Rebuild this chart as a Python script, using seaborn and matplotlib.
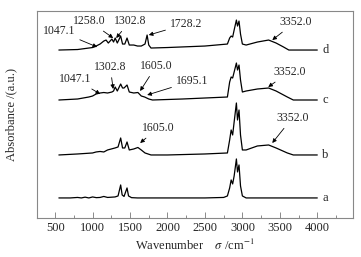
import numpy as np
import pandas as pd
import seaborn as sns
import matplotlib.pyplot as plt
from matplotlib.ticker import FixedLocator

# FTIR spectra: wavenumber (cm-1) and relative absorbance
# (arbitrary units, height above each curve's own baseline)
wn_a = [550, 700, 800, 850, 900, 950, 1000, 1050, 1100, 1150, 1200, 1300, 1340, 1375, 1395,
        1420, 1460, 1480, 1520, 1600, 2500, 2750, 2800, 2830, 2850, 2870, 2890, 2920, 2935,
        2955, 2975, 3000, 3050, 4000]
ab_a = [0, 0, 0.5, 0, 0.8, 0, 1, 0.3, 0.5, 1.5, 0.5, 1, 2, 13, 3,
        1.5, 10, 2, 0.3, 0, 0, 0.5, 2, 10, 18, 14, 22, 39, 26,
        33, 12, 2, 0, 0]

wn_b = [550, 800, 900, 1000, 1047, 1100, 1150, 1200, 1300, 1340, 1375, 1400, 1430, 1460,
        1490, 1550, 1605, 1650, 1700, 1780, 2000, 2500, 2800, 2830, 2850, 2870, 2890, 2920,
        2935, 2955, 2975, 3000, 3050, 3200, 3350, 3450, 3600, 3680, 4000]
ab_b = [0, 1, 1.5, 2, 3, 3.5, 3, 5, 7, 8, 17, 7, 7, 13,
        5, 6, 7.5, 5, 2, 0, 0, 1, 2, 15, 25, 20, 33, 52,
        35, 45, 20, 5, 5, 9, 10, 7, 2, 0, 0]

wn_c = [550, 800, 950, 1000, 1047, 1100, 1150, 1200, 1258, 1280, 1302, 1330, 1375, 1400,
        1420, 1460, 1490, 1550, 1605, 1650, 1695, 1750, 1800, 2200, 2500, 2800, 2830, 2850,
        2870, 2890, 2920, 2935, 2955, 2975, 3000, 3050, 3200, 3350, 3450, 3600, 3680, 4000]
ab_c = [0, 1, 3, 4, 6, 7, 7.5, 7, 8, 9, 13, 9, 16, 12,
        12, 15, 8, 7, 7.5, 4, 3, 1, 0, 1, 2, 3, 18, 23,
        22, 28, 37, 30, 35, 20, 8, 9, 11, 12, 9, 3, 0, 0]

wn_d = [550, 800, 1000, 1047, 1100, 1150, 1180, 1210, 1258, 1280, 1302, 1330, 1375, 1400,
        1430, 1460, 1490, 1550, 1600, 1650, 1700, 1728, 1750, 1780, 2000, 2500, 2800, 2830,
        2850, 2870, 2890, 2920, 2935, 2955, 2975, 3000, 3050, 3200, 3350, 3450, 3550, 3620,
        4000]
ab_d = [0, 0.5, 2.5, 4, 6, 9, 10, 7, 11, 8, 12, 7, 14, 6,
        6, 12, 5, 5, 4, 4, 6, 15, 5, 2, 2.5, 4, 6, 12,
        14, 13, 20, 30, 24, 29, 16, 6, 5, 8, 10, 7, 3, 0,
        0]

curve_names = ["a", "b", "c", "d"]
curve_offsets = [20, 63, 118, 168]

# peak labels: (curve, text, arrow tip x, tip y, text x, text y)
peak_notes = [
    ("d", "1047.1", 1061, 171, 553, 187),
    ("d", "1258.0", 1275, 180, 954, 197),
    ("d", "1302.8", 1315, 180, 1502, 197),
    ("d", "1728.2", 1750, 183, 2250, 194),
    ("d", "3352.0", 3399, 178, 3706, 196),
    ("c", "1047.1", 1101, 124, 767, 139),
    ("c", "1302.8", 1275, 129, 1235, 151),
    ("c", "1605.0", 1635, 127, 1849, 152),
    ("c", "1695.1", 1729, 123, 2330, 137),
    ("c", "3352.0", 3345, 131, 3626, 146),
    ("b", "1605.0", 1635, 75, 1876, 90),
    ("b", "3352.0", 3399, 75, 3666, 100),
]

frames = []
for name, wn, ab, off in zip(curve_names, [wn_a, wn_b, wn_c, wn_d],
                             [ab_a, ab_b, ab_c, ab_d], curve_offsets):
    frames.append(pd.DataFrame({"wn": wn, "A": np.array(ab) + off, "curve": name}))
df = pd.concat(frames, ignore_index=True)

sns.set_style("ticks")
plt.rcParams['font.family'] = ['Liberation Serif', 'DejaVu Serif']
plt.rcParams['mathtext.fontset'] = 'stix'

fig = plt.figure(figsize=(3.61, 2.57), dpi=100)
ax = fig.add_axes([0.1025, 0.152, 0.876, 0.805])

sns.lineplot(data=df, x="wn", y="A", hue="curve", units="curve", estimator=None,
             sort=False, palette={n: "black" for n in curve_names}, legend=False,
             linewidth=0.9, ax=ax)

for name, off in zip(curve_names, curve_offsets):
    ax.text(4107, off, name, fontsize=9, ha="center", va="center")

for curve, txt, tx, ty, lx, ly in peak_notes:
    ax.annotate(txt, xy=(tx, ty), xytext=(lx, ly), fontsize=8.5, ha="center", va="center",
                arrowprops=dict(arrowstyle="-|>", color="black", lw=0.6,
                                mutation_scale=6, shrinkA=1, shrinkB=0))

ax.set_xlim(258, 4480)
ax.set_ylim(0, 207)
ax.xaxis.set_major_locator(FixedLocator([500, 1000, 1500, 2000, 2500, 3000, 3500, 4000]))
ax.xaxis.set_minor_locator(FixedLocator([750, 1250, 1750, 2250, 2750, 3250, 3750, 4250]))
ax.set_yticks([])
ax.tick_params(axis="x", which="major", direction="in", length=4.5, width=0.6,
               color="#777777", labelsize=9, pad=3)
ax.tick_params(axis="x", which="minor", direction="in", length=2.5, width=0.6,
               color="#777777")
for sp in ax.spines.values():
    sp.set_visible(True)
    sp.set_color("#888888")
    sp.set_linewidth(0.8)

ax.set_xlabel("Wavenumber    $\\sigma$ /cm$^{-1}$", fontsize=9, labelpad=3)
ax.set_ylabel("Absorbance /(a.u.)", fontsize=9, labelpad=14)

fig.savefig("out.png", dpi=100)
